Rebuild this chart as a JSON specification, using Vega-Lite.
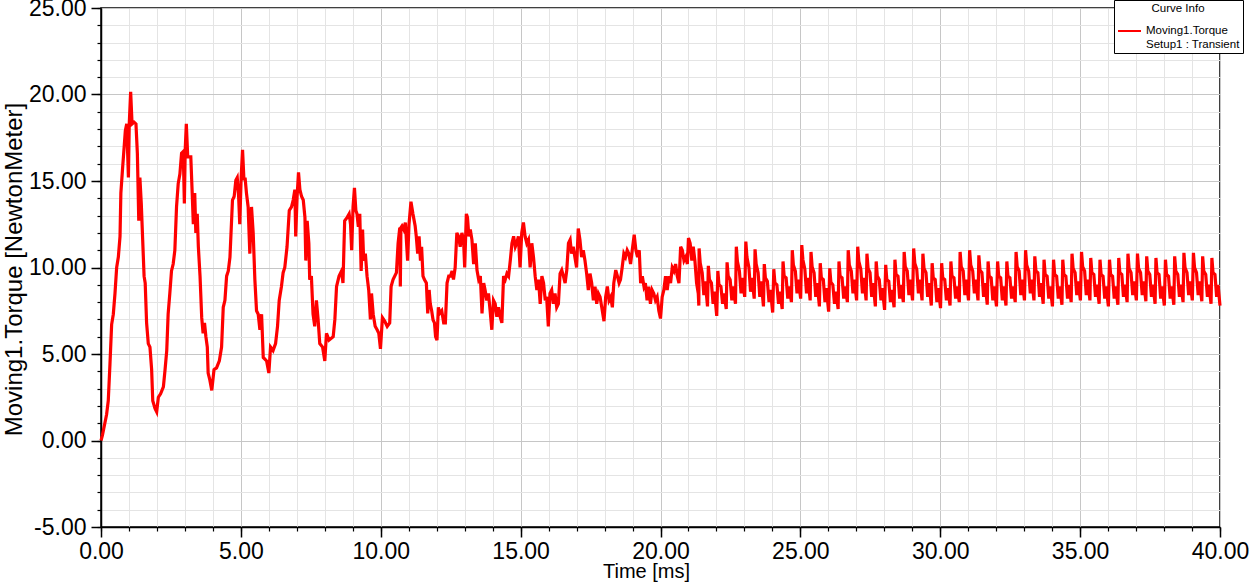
{
"$schema": "https://vega.github.io/schema/vega-lite/v6.json",
"width": 1119, "height": 519,
"autosize": {"type": "none"},
"padding": {"left": 101, "top": 8, "right": 36, "bottom": 56},
"background": "white",
"config": {"font": "Liberation Sans", "view": {"stroke": "black", "strokeWidth": 1.5}},
"data": {"values": [
{"t":0,"v":0},{"t":0.05,"v":0.3},{"t":0.1,"v":0.7},{"t":0.15,"v":1.1},{"t":0.2,"v":1.5},{"t":0.26,"v":2.3},{"t":0.32,"v":4.4},{"t":0.38,"v":6.7},{"t":0.44,"v":7.3},{"t":0.5,"v":8.5},{"t":0.56,"v":10.0},{"t":0.62,"v":10.6},{"t":0.68,"v":11.8},{"t":0.71,"v":14.3},{"t":0.77,"v":15.7},{"t":0.82,"v":16.8},{"t":0.87,"v":17.9},{"t":0.92,"v":18.3},{"t":0.98,"v":15.2},{"t":1.01,"v":18.3},{"t":1.06,"v":20.15},{"t":1.11,"v":18.3},{"t":1.18,"v":18.4},{"t":1.25,"v":18.3},{"t":1.3,"v":16.6},{"t":1.35,"v":12.7},{"t":1.39,"v":15.2},{"t":1.44,"v":13.7},{"t":1.49,"v":11.6},{"t":1.54,"v":9.5},{"t":1.58,"v":9.1},{"t":1.63,"v":6.8},{"t":1.69,"v":5.6},{"t":1.75,"v":5.4},{"t":1.81,"v":4.1},{"t":1.85,"v":2.3},{"t":1.93,"v":1.85},{"t":1.99,"v":1.65},
{"t":2.05,"v":2.5},{"t":2.13,"v":2.7},{"t":2.23,"v":3.1},{"t":2.29,"v":4.1},{"t":2.35,"v":5.2},{"t":2.4,"v":7.3},{"t":2.46,"v":8.5},{"t":2.52,"v":9.8},{"t":2.58,"v":10.2},{"t":2.64,"v":11.0},{"t":2.7,"v":13.5},{"t":2.76,"v":14.85},{"t":2.82,"v":15.4},{"t":2.88,"v":16.6},{"t":2.94,"v":16.7},{"t":2.98,"v":13.7},{"t":3.01,"v":16.8},{"t":3.05,"v":18.3},{"t":3.1,"v":16.4},{"t":3.15,"v":16.4},{"t":3.21,"v":16.4},{"t":3.26,"v":14.3},{"t":3.3,"v":12.5},{"t":3.35,"v":14.3},{"t":3.39,"v":12.0},{"t":3.44,"v":13.1},{"t":3.48,"v":11.2},{"t":3.54,"v":9.5},{"t":3.6,"v":7.1},{"t":3.65,"v":6.2},{"t":3.7,"v":6.8},{"t":3.75,"v":6.0},{"t":3.8,"v":5.4},{"t":3.83,"v":3.9},{"t":3.89,"v":3.5},{"t":3.96,"v":2.9},
{"t":4.04,"v":4.1},{"t":4.13,"v":4.2},{"t":4.23,"v":4.6},{"t":4.31,"v":5.4},{"t":4.37,"v":7.7},{"t":4.43,"v":8.1},{"t":4.49,"v":9.5},{"t":4.55,"v":9.8},{"t":4.61,"v":10.6},{"t":4.7,"v":13.9},{"t":4.76,"v":14.1},{"t":4.82,"v":15.05},{"t":4.87,"v":15.2},{"t":4.92,"v":14.1},{"t":4.96,"v":12.5},{"t":5.01,"v":15.2},{"t":5.06,"v":16.8},{"t":5.11,"v":15.05},{"t":5.15,"v":15.2},{"t":5.2,"v":14.3},{"t":5.26,"v":13.5},{"t":5.32,"v":10.8},{"t":5.38,"v":13.5},{"t":5.44,"v":12.0},{"t":5.5,"v":9.3},{"t":5.56,"v":7.5},{"t":5.62,"v":7.3},{"t":5.68,"v":6.4},{"t":5.74,"v":7.3},{"t":5.8,"v":4.8},{"t":5.92,"v":4.6},{"t":6.0,"v":3.9},
{"t":6.06,"v":5.4},{"t":6.15,"v":5.2},{"t":6.24,"v":5.6},{"t":6.31,"v":6.6},{"t":6.37,"v":8.1},{"t":6.45,"v":8.9},{"t":6.51,"v":9.7},{"t":6.57,"v":10.0},{"t":6.65,"v":11.2},{"t":6.73,"v":13.3},{"t":6.81,"v":13.5},{"t":6.87,"v":13.9},{"t":6.93,"v":14.5},{"t":6.96,"v":11.8},{"t":7.01,"v":14.1},{"t":7.06,"v":15.5},{"t":7.11,"v":14.5},{"t":7.17,"v":14.1},{"t":7.23,"v":13.9},{"t":7.29,"v":12.9},{"t":7.32,"v":10.4},{"t":7.37,"v":12.7},{"t":7.43,"v":11.4},{"t":7.46,"v":9.3},{"t":7.52,"v":9.5},{"t":7.58,"v":7.3},{"t":7.64,"v":6.6},{"t":7.7,"v":8.1},{"t":7.76,"v":7.0},{"t":7.82,"v":5.6},{"t":7.92,"v":5.4},{"t":8.0,"v":4.6},
{"t":8.06,"v":6.2},{"t":8.15,"v":5.8},{"t":8.3,"v":6.0},{"t":8.36,"v":7.0},{"t":8.42,"v":8.9},{"t":8.51,"v":9.5},{"t":8.6,"v":9.8},{"t":8.65,"v":9.1},{"t":8.71,"v":12.7},{"t":8.8,"v":12.9},{"t":8.87,"v":13.1},{"t":8.92,"v":12.5},{"t":8.96,"v":11.0},{"t":9.01,"v":13.5},{"t":9.06,"v":14.6},{"t":9.11,"v":13.3},{"t":9.15,"v":13.1},{"t":9.2,"v":12.35},{"t":9.25,"v":13.1},{"t":9.3,"v":9.8},{"t":9.35,"v":12.2},{"t":9.39,"v":10.4},{"t":9.45,"v":10.8},{"t":9.51,"v":9.5},{"t":9.57,"v":8.7},{"t":9.63,"v":7.0},{"t":9.67,"v":8.5},{"t":9.73,"v":7.3},{"t":9.8,"v":6.6},{"t":9.87,"v":6.4},{"t":9.93,"v":6.2},{"t":9.99,"v":5.3},
{"t":10.06,"v":7.1},{"t":10.14,"v":6.9},{"t":10.23,"v":6.6},{"t":10.32,"v":6.8},{"t":10.37,"v":8.9},{"t":10.44,"v":9.3},{"t":10.56,"v":9.7},{"t":10.62,"v":11.4},{"t":10.68,"v":12.3},{"t":10.7,"v":8.9},{"t":10.72,"v":12.3},{"t":10.76,"v":12.4},{"t":10.82,"v":12.2},{"t":10.88,"v":12.6},{"t":10.96,"v":10.4},{"t":11.01,"v":12.5},{"t":11.08,"v":13.8},{"t":11.15,"v":13.1},{"t":11.23,"v":12.4},{"t":11.27,"v":11.8},{"t":11.32,"v":10.8},{"t":11.37,"v":11.8},{"t":11.42,"v":10.4},{"t":11.46,"v":11.2},{"t":11.51,"v":9.5},{"t":11.56,"v":9.3},{"t":11.63,"v":9.1},{"t":11.68,"v":7.35},{"t":11.73,"v":8.7},{"t":11.77,"v":7.9},{"t":11.82,"v":7.5},{"t":11.87,"v":6.96},{"t":11.92,"v":6.8},{"t":11.96,"v":6.0},{"t":12.01,"v":5.8},
{"t":12.06,"v":7.7},{"t":12.11,"v":7.35},{"t":12.18,"v":7.5},{"t":12.25,"v":6.8},{"t":12.31,"v":6.8},{"t":12.37,"v":9.1},{"t":12.43,"v":9.5},{"t":12.49,"v":9.5},{"t":12.55,"v":9.8},{"t":12.6,"v":9.3},{"t":12.66,"v":10.0},{"t":12.72,"v":12.0},{"t":12.78,"v":11.8},{"t":12.84,"v":11.2},{"t":12.9,"v":12.0},{"t":12.96,"v":11.6},{"t":13.0,"v":10.0},{"t":13.06,"v":13.1},{"t":13.1,"v":12.9},{"t":13.15,"v":11.8},{"t":13.2,"v":12.2},{"t":13.26,"v":11.6},{"t":13.32,"v":10.2},{"t":13.38,"v":11.4},{"t":13.44,"v":9.85},{"t":13.5,"v":9.3},{"t":13.56,"v":9.5},{"t":13.62,"v":7.35},{"t":13.68,"v":9.1},{"t":13.73,"v":8.7},{"t":13.79,"v":8.1},{"t":13.85,"v":8.5},{"t":13.91,"v":7.5},{"t":13.97,"v":6.4},
{"t":14.03,"v":8.1},{"t":14.09,"v":7.9},{"t":14.15,"v":7.15},{"t":14.21,"v":7.7},{"t":14.27,"v":7.15},{"t":14.33,"v":6.8},{"t":14.39,"v":9.5},{"t":14.45,"v":9.3},{"t":14.51,"v":9.65},{"t":14.57,"v":9.5},{"t":14.63,"v":10.4},{"t":14.69,"v":11.4},{"t":14.75,"v":11.8},{"t":14.81,"v":11.2},{"t":14.86,"v":11.4},{"t":14.92,"v":11.8},{"t":14.98,"v":10.0},{"t":15.04,"v":12.0},{"t":15.1,"v":12.6},{"t":15.16,"v":11.8},{"t":15.22,"v":11.4},{"t":15.28,"v":11.6},{"t":15.34,"v":10.0},{"t":15.4,"v":11.4},{"t":15.46,"v":10.6},{"t":15.52,"v":9.5},{"t":15.58,"v":8.7},{"t":15.64,"v":9.3},{"t":15.7,"v":7.9},{"t":15.76,"v":9.5},{"t":15.82,"v":9.1},{"t":15.88,"v":8.1},{"t":15.93,"v":8.3},{"t":15.99,"v":6.6},
{"t":16.05,"v":8.5},{"t":16.11,"v":8.7},{"t":16.17,"v":7.9},{"t":16.23,"v":8.5},{"t":16.29,"v":7.7},{"t":16.35,"v":7.9},{"t":16.41,"v":9.65},{"t":16.47,"v":9.85},{"t":16.53,"v":9.5},{"t":16.59,"v":9.1},{"t":16.65,"v":9.85},{"t":16.71,"v":11.4},{"t":16.77,"v":11.6},{"t":16.82,"v":10.8},{"t":16.88,"v":11.2},{"t":16.94,"v":10.6},{"t":17.0,"v":10.0},{"t":17.06,"v":12.25},{"t":17.12,"v":11.6},{"t":17.18,"v":10.6},{"t":17.24,"v":11.0},{"t":17.3,"v":10.4},{"t":17.36,"v":9.65},{"t":17.42,"v":8.7},{"t":17.48,"v":9.65},{"t":17.54,"v":9.1},{"t":17.6,"v":8.1},{"t":17.66,"v":8.9},{"t":17.72,"v":7.9},{"t":17.78,"v":8.5},{"t":17.84,"v":8.3},{"t":17.9,"v":7.7},{"t":17.98,"v":6.9},
{"t":18.04,"v":8.3},{"t":18.1,"v":8.9},{"t":18.16,"v":8.1},{"t":18.22,"v":8.3},{"t":18.28,"v":7.7},{"t":18.33,"v":9.1},{"t":18.4,"v":9.85},{"t":18.46,"v":9.5},{"t":18.52,"v":9.1},{"t":18.57,"v":9.3},{"t":18.63,"v":10.0},{"t":18.69,"v":10.8},{"t":18.75,"v":10.6},{"t":18.81,"v":11.0},{"t":18.87,"v":10.8},{"t":18.93,"v":10.2},{"t":18.99,"v":11.0},{"t":19.06,"v":11.9},{"t":19.12,"v":11.0},{"t":19.18,"v":10.6},{"t":19.24,"v":11.0},{"t":19.29,"v":9.1},{"t":19.35,"v":9.5},{"t":19.41,"v":8.9},{"t":19.46,"v":9.1},{"t":19.52,"v":8.1},{"t":19.58,"v":8.9},{"t":19.64,"v":7.9},{"t":19.7,"v":8.7},{"t":19.76,"v":8.5},{"t":19.82,"v":8.1},{"t":19.88,"v":8.3},{"t":19.94,"v":7.5},{"t":20.0,"v":7.05},
{"t":20.06,"v":8.3},{"t":20.12,"v":8.7},{"t":20.18,"v":9.5},{"t":20.24,"v":8.7},{"t":20.3,"v":9.5},{"t":20.36,"v":9.1},{"t":20.42,"v":10.0},{"t":20.48,"v":9.8},{"t":20.54,"v":10.2},{"t":20.6,"v":9.5},{"t":20.66,"v":9.1},{"t":20.72,"v":11.2},{"t":20.78,"v":11.0},{"t":20.84,"v":10.4},{"t":20.9,"v":10.6},{"t":20.96,"v":10.2},{"t":21.0,"v":11.7},{"t":21.06,"v":11.4},{"t":21.12,"v":10.4},{"t":21.17,"v":11.2},{"t":21.23,"v":10.4},{"t":21.29,"v":9.1},{"t":21.35,"v":8.5},{"t":21.37,"v":7.8},
{"t":21.38,"v":11.1},{"t":21.42,"v":10.25},{"t":21.49,"v":9.7},{"t":21.55,"v":8.4},{"t":21.6,"v":9.2},{"t":21.68,"v":7.75},
{"t":21.71,"v":10.1},{"t":21.75,"v":9.3},{"t":21.82,"v":9.1},{"t":21.88,"v":7.9},{"t":21.93,"v":8.6},{"t":22.01,"v":7.2},
{"t":22.05,"v":9.8},{"t":22.09,"v":9.0},{"t":22.16,"v":8.9},{"t":22.22,"v":7.9},{"t":22.27,"v":8.5},{"t":22.35,"v":7.6},
{"t":22.38,"v":10.3},{"t":22.42,"v":9.5},{"t":22.49,"v":9.3},{"t":22.55,"v":8.1},{"t":22.6,"v":8.9},{"t":22.68,"v":7.9},
{"t":22.71,"v":11.2},{"t":22.75,"v":10.35},{"t":22.82,"v":9.8},{"t":22.88,"v":8.5},{"t":22.93,"v":9.4},{"t":23.01,"v":8.3},
{"t":23.05,"v":11.5},{"t":23.09,"v":10.6},{"t":23.16,"v":10.0},{"t":23.22,"v":8.6},{"t":23.27,"v":9.4},{"t":23.35,"v":8.2},
{"t":23.38,"v":11.05},{"t":23.42,"v":10.2},{"t":23.49,"v":9.7},{"t":23.55,"v":8.3},{"t":23.6,"v":9.2},{"t":23.68,"v":7.75},
{"t":23.71,"v":10.2},{"t":23.75,"v":9.4},{"t":23.82,"v":9.2},{"t":23.88,"v":8.0},{"t":23.93,"v":8.7},{"t":24.01,"v":7.4},
{"t":24.05,"v":9.9},{"t":24.09,"v":9.1},{"t":24.16,"v":9.0},{"t":24.22,"v":7.9},{"t":24.27,"v":8.6},{"t":24.35,"v":7.6},
{"t":24.38,"v":10.35},{"t":24.42,"v":9.5},{"t":24.49,"v":9.4},{"t":24.55,"v":8.2},{"t":24.6,"v":8.9},{"t":24.68,"v":8.0},
{"t":24.71,"v":11.0},{"t":24.75,"v":10.15},{"t":24.82,"v":9.8},{"t":24.88,"v":8.5},{"t":24.93,"v":9.3},{"t":25.01,"v":8.2},
{"t":25.05,"v":11.3},{"t":25.09,"v":10.45},{"t":25.16,"v":9.9},{"t":25.22,"v":8.5},{"t":25.27,"v":9.4},{"t":25.35,"v":8.1},
{"t":25.38,"v":10.9},{"t":25.42,"v":10.05},{"t":25.49,"v":9.7},{"t":25.55,"v":8.3},{"t":25.6,"v":9.1},{"t":25.68,"v":7.75},
{"t":25.71,"v":10.25},{"t":25.75,"v":9.4},{"t":25.82,"v":9.3},{"t":25.88,"v":8.0},{"t":25.93,"v":8.8},{"t":26.01,"v":7.45},
{"t":26.05,"v":9.95},{"t":26.09,"v":9.15},{"t":26.16,"v":9.0},{"t":26.22,"v":7.9},{"t":26.27,"v":8.6},{"t":26.35,"v":7.6},
{"t":26.38,"v":10.35},{"t":26.42,"v":9.5},{"t":26.49,"v":9.4},{"t":26.55,"v":8.2},{"t":26.6,"v":8.9},{"t":26.68,"v":8.0},
{"t":26.71,"v":11.0},{"t":26.75,"v":10.15},{"t":26.82,"v":9.8},{"t":26.88,"v":8.5},{"t":26.93,"v":9.3},{"t":27.01,"v":8.1},
{"t":27.05,"v":11.2},{"t":27.09,"v":10.35},{"t":27.16,"v":9.9},{"t":27.22,"v":8.5},{"t":27.27,"v":9.4},{"t":27.35,"v":8.1},
{"t":27.38,"v":10.8},{"t":27.42,"v":9.95},{"t":27.49,"v":9.7},{"t":27.55,"v":8.3},{"t":27.6,"v":9.1},{"t":27.68,"v":7.75},
{"t":27.71,"v":10.35},{"t":27.75,"v":9.5},{"t":27.82,"v":9.3},{"t":27.88,"v":8.1},{"t":27.93,"v":8.8},{"t":28.01,"v":7.55},
{"t":28.05,"v":10.15},{"t":28.09,"v":9.3},{"t":28.16,"v":9.2},{"t":28.22,"v":8.0},{"t":28.27,"v":8.7},{"t":28.35,"v":7.7},
{"t":28.38,"v":10.45},{"t":28.42,"v":9.6},{"t":28.49,"v":9.5},{"t":28.55,"v":8.2},{"t":28.6,"v":9.0},{"t":28.68,"v":8.0},
{"t":28.71,"v":10.9},{"t":28.75,"v":10.05},{"t":28.82,"v":9.8},{"t":28.88,"v":8.4},{"t":28.93,"v":9.3},{"t":29.01,"v":8.1},
{"t":29.05,"v":11.1},{"t":29.09,"v":10.25},{"t":29.16,"v":9.9},{"t":29.22,"v":8.5},{"t":29.27,"v":9.3},{"t":29.35,"v":8.1},
{"t":29.38,"v":10.8},{"t":29.42,"v":9.95},{"t":29.49,"v":9.7},{"t":29.55,"v":8.3},{"t":29.6,"v":9.1},{"t":29.68,"v":7.8},
{"t":29.71,"v":10.25},{"t":29.75,"v":9.4},{"t":29.82,"v":9.3},{"t":29.88,"v":8.0},{"t":29.93,"v":8.8},{"t":30.01,"v":7.65},
{"t":30.05,"v":10.25},{"t":30.09,"v":9.4},{"t":30.16,"v":9.3},{"t":30.22,"v":8.1},{"t":30.27,"v":8.8},{"t":30.35,"v":7.8},
{"t":30.38,"v":10.35},{"t":30.42,"v":9.5},{"t":30.49,"v":9.4},{"t":30.55,"v":8.2},{"t":30.6,"v":8.9},{"t":30.68,"v":8.0},
{"t":30.71,"v":10.9},{"t":30.75,"v":10.05},{"t":30.82,"v":9.8},{"t":30.88,"v":8.4},{"t":30.93,"v":9.3},{"t":31.01,"v":8.1},
{"t":31.05,"v":11.0},{"t":31.09,"v":10.15},{"t":31.16,"v":9.8},{"t":31.22,"v":8.5},{"t":31.27,"v":9.3},{"t":31.35,"v":8.1},
{"t":31.38,"v":10.7},{"t":31.42,"v":9.85},{"t":31.49,"v":9.7},{"t":31.55,"v":8.3},{"t":31.6,"v":9.1},{"t":31.68,"v":7.85},
{"t":31.71,"v":10.35},{"t":31.75,"v":9.5},{"t":31.82,"v":9.4},{"t":31.88,"v":8.1},{"t":31.93,"v":8.9},{"t":32.01,"v":7.75},
{"t":32.05,"v":10.35},{"t":32.09,"v":9.5},{"t":32.16,"v":9.4},{"t":32.22,"v":8.1},{"t":32.27,"v":8.9},{"t":32.35,"v":7.8},
{"t":32.38,"v":10.35},{"t":32.42,"v":9.5},{"t":32.49,"v":9.4},{"t":32.55,"v":8.2},{"t":32.6,"v":8.9},{"t":32.68,"v":8.0},
{"t":32.71,"v":10.9},{"t":32.75,"v":10.05},{"t":32.82,"v":9.8},{"t":32.88,"v":8.4},{"t":32.93,"v":9.3},{"t":33.01,"v":8.1},
{"t":33.05,"v":11.0},{"t":33.09,"v":10.15},{"t":33.16,"v":9.8},{"t":33.22,"v":8.5},{"t":33.27,"v":9.3},{"t":33.35,"v":8.1},
{"t":33.38,"v":10.65},{"t":33.42,"v":9.8},{"t":33.49,"v":9.7},{"t":33.55,"v":8.3},{"t":33.6,"v":9.1},{"t":33.68,"v":7.9},
{"t":33.71,"v":10.45},{"t":33.75,"v":9.6},{"t":33.82,"v":9.5},{"t":33.88,"v":8.2},{"t":33.93,"v":8.9},{"t":34.01,"v":7.75},
{"t":34.05,"v":10.45},{"t":34.09,"v":9.6},{"t":34.16,"v":9.5},{"t":34.22,"v":8.2},{"t":34.27,"v":8.9},{"t":34.35,"v":7.85},
{"t":34.38,"v":10.45},{"t":34.42,"v":9.6},{"t":34.49,"v":9.5},{"t":34.55,"v":8.2},{"t":34.6,"v":9.0},{"t":34.68,"v":8.0},
{"t":34.71,"v":10.8},{"t":34.75,"v":9.95},{"t":34.82,"v":9.7},{"t":34.88,"v":8.4},{"t":34.93,"v":9.2},{"t":35.01,"v":8.1},
{"t":35.05,"v":10.9},{"t":35.09,"v":10.05},{"t":35.16,"v":9.8},{"t":35.22,"v":8.4},{"t":35.27,"v":9.3},{"t":35.35,"v":8.1},
{"t":35.38,"v":10.55},{"t":35.42,"v":9.7},{"t":35.49,"v":9.6},{"t":35.55,"v":8.3},{"t":35.6,"v":9.0},{"t":35.68,"v":7.9},
{"t":35.71,"v":10.45},{"t":35.75,"v":9.6},{"t":35.82,"v":9.5},{"t":35.88,"v":8.2},{"t":35.93,"v":8.9},{"t":36.01,"v":7.75},
{"t":36.05,"v":10.45},{"t":36.09,"v":9.6},{"t":36.16,"v":9.5},{"t":36.22,"v":8.2},{"t":36.27,"v":8.9},{"t":36.35,"v":7.85},
{"t":36.38,"v":10.55},{"t":36.42,"v":9.7},{"t":36.49,"v":9.6},{"t":36.55,"v":8.3},{"t":36.6,"v":9.0},{"t":36.68,"v":8.0},
{"t":36.71,"v":10.8},{"t":36.75,"v":9.95},{"t":36.82,"v":9.7},{"t":36.88,"v":8.4},{"t":36.93,"v":9.2},{"t":37.01,"v":8.1},
{"t":37.05,"v":10.8},{"t":37.09,"v":9.95},{"t":37.16,"v":9.7},{"t":37.22,"v":8.4},{"t":37.27,"v":9.2},{"t":37.35,"v":8.05},
{"t":37.38,"v":10.65},{"t":37.42,"v":9.8},{"t":37.49,"v":9.6},{"t":37.55,"v":8.3},{"t":37.6,"v":9.0},{"t":37.68,"v":7.9},
{"t":37.71,"v":10.55},{"t":37.75,"v":9.7},{"t":37.82,"v":9.6},{"t":37.88,"v":8.2},{"t":37.93,"v":8.9},{"t":38.01,"v":7.8},
{"t":38.05,"v":10.45},{"t":38.09,"v":9.6},{"t":38.16,"v":9.5},{"t":38.22,"v":8.2},{"t":38.27,"v":8.9},{"t":38.35,"v":7.85},
{"t":38.38,"v":10.65},{"t":38.42,"v":9.8},{"t":38.49,"v":9.6},{"t":38.55,"v":8.3},{"t":38.6,"v":9.0},{"t":38.68,"v":8.0},
{"t":38.71,"v":10.85},{"t":38.75,"v":10.0},{"t":38.82,"v":9.7},{"t":38.88,"v":8.4},{"t":38.93,"v":9.2},{"t":39.01,"v":8.1},
{"t":39.05,"v":10.85},{"t":39.09,"v":10.0},{"t":39.16,"v":9.7},{"t":39.22,"v":8.4},{"t":39.27,"v":9.2},{"t":39.35,"v":8.05},
{"t":39.38,"v":10.65},{"t":39.42,"v":9.8},{"t":39.49,"v":9.6},{"t":39.55,"v":8.3},{"t":39.6,"v":9.0},{"t":39.68,"v":7.9},
{"t":39.71,"v":10.55},{"t":39.75,"v":9.7},{"t":39.82,"v":9.6},{"t":39.88,"v":8.3},{"t":39.93,"v":9.0},{"t":40.0,"v":7.8}
]},
"layer": [
{
"mark": {"type": "line", "strokeOpacity": 0},
"encoding": {
"x": {"field": "t", "type": "quantitative", "scale": {"domain": [0, 40], "nice": false, "zero": false},
"axis": {"orient": "bottom", "values": [0,1,2,3,4,5,6,7,8,9,10,11,12,13,14,15,16,17,18,19,20,21,22,23,24,25,26,27,28,29,30,31,32,33,34,35,36,37,38,39,40], "labels": false, "domain": false, "tickSize": 4, "tickColor": "black", "tickWidth": 1.2, "grid": true, "gridColor": "#e4e4e4", "gridWidth": 1, "title": null}},
"y": {"field": "v", "type": "quantitative", "scale": {"domain": [-5, 25], "nice": false, "zero": false},
"axis": {"orient": "left", "values": [-5,-4,-3,-2,-1,0,1,2,3,4,5,6,7,8,9,10,11,12,13,14,15,16,17,18,19,20,21,22,23,24,25], "labels": false, "domain": false, "tickSize": 4, "tickColor": "black", "tickWidth": 1.2, "grid": true, "gridColor": "#e4e4e4", "gridWidth": 1, "title": null}}
}
},
{
"mark": {"type": "line", "strokeWidth": 3.2, "interpolate": "linear"},
"encoding": {
"x": {"field": "t", "type": "quantitative", "scale": {"domain": [0, 40], "nice": false, "zero": false},
"axis": {"orient": "bottom", "values": [0,5,10,15,20,25,30,35,40], "labelExpr": "replace(format(datum.value, '.2f'), '\u2212', '-')", "labelFontSize": 23, "labelColor": "black", "labelFlush": false, "labelOverlap": false, "labelPadding": 3, "domain": true, "domainColor": "black", "domainWidth": 1.5, "tickSize": 10, "tickColor": "black", "tickWidth": 1.5, "grid": true, "gridColor": "#c6c6c6", "gridWidth": 1, "title": "Time [ms]", "titleFontSize": 20, "titleFontWeight": "normal", "titleColor": "black", "titleX": 545, "titleY": 50.5, "titleBaseline": "alphabetic", "titleAlign": "center"}},
"y": {"field": "v", "type": "quantitative", "scale": {"domain": [-5, 25], "nice": false, "zero": false},
"axis": {"orient": "left", "values": [-5,0,5,10,15,20,25], "labelExpr": "replace(format(datum.value, '.2f'), '\u2212', '-')", "labelFontSize": 23, "labelColor": "black", "labelFlush": false, "labelOverlap": false, "labelPadding": 5, "domain": true, "domainColor": "black", "domainWidth": 1.5, "tickSize": 10, "tickColor": "black", "tickWidth": 1.5, "grid": true, "gridColor": "#c6c6c6", "gridWidth": 1, "title": "Moving1.Torque [NewtonMeter]", "titleFontSize": 24, "titleFontWeight": "normal", "titleColor": "black", "titleX": -80, "titleY": 261, "titleBaseline": "alphabetic", "titleAlign": "center", "titleAngle": 270}},
"color": {"datum": "Moving1.Torque", "type": "nominal", "scale": {"range": ["#ff0000"]},
"legend": {"title": "Curve Info", "orient": "none", "legendX": 1013, "legendY": -8, "strokeColor": "black", "fillColor": "white", "padding": 3, "titleFontSize": 11.5, "titleFontWeight": "normal", "titleColor": "black", "titleAnchor": "middle", "titlePadding": 4, "labelFontSize": 11.5, "labelColor": "black", "labelLimit": 0, "symbolType": "stroke", "symbolStrokeWidth": 2, "symbolSize": 529, "symbolStrokeColor": "#cc2020", "labelExpr": "['Moving1.Torque', 'Setup1 : Transient']"}}
}
}
],
"resolve": {"axis": {"x": "independent", "y": "independent"}}
}
